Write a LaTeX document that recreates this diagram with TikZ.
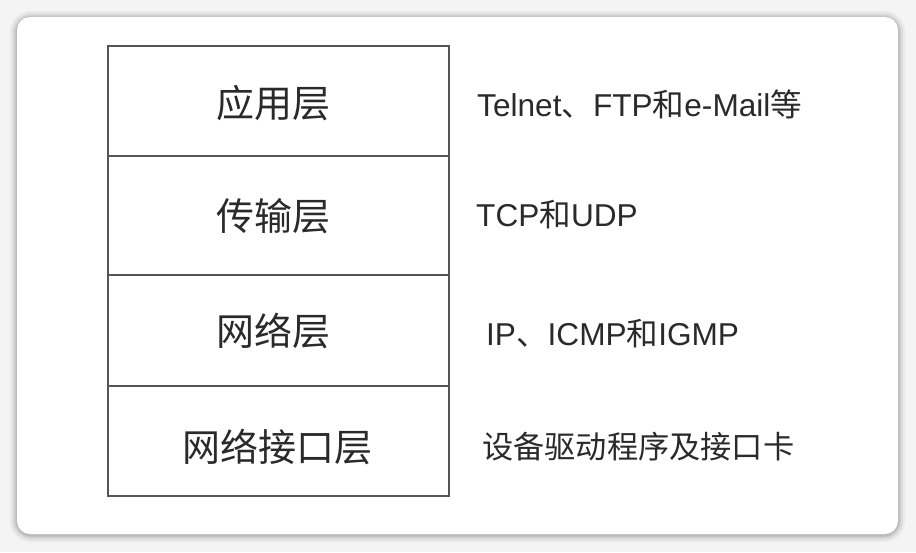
\documentclass[tikz,border=0pt]{standalone}
\usepackage{fontspec}
\setmainfont{Liberation Sans}
\newfontfamily\cjk{Noto Sans CJK SC}
\definecolor{bgc}{HTML}{F4F4F4}
\definecolor{linec}{HTML}{555555}
\definecolor{txtc}{HTML}{2A2A2A}
\begin{document}
\begin{tikzpicture}[x=1pt,y=-1pt,
  layerbox/.style={draw=linec,line width=2pt,minimum width=341pt,inner sep=0pt,anchor=north west},
  layertext/.style={text=txtc,font=\cjk\fontsize{38}{42}\selectfont,inner sep=0pt},
  prototext/.style={text=txtc,font=\fontsize{31.6}{36}\selectfont,anchor=west,inner sep=0pt}]
\useasboundingbox (0,0) rectangle (916,552);
\fill[bgc] (0,0) rectangle (916,552);
% card shadow
\foreach \w/\o in {14/0.04,10/0.05,6/0.07,3/0.09}{
  \draw[black,opacity=\o,line width=\w pt,rounded corners=14pt] (17,18) rectangle (898,535);
}
\fill[white,rounded corners=13pt] (17,17) rectangle (898,534);
% layers
\node[layerbox,minimum height=110pt] (l1) at (107,45) {};
\node[layerbox,minimum height=119pt] (l2) at (107,155) {};
\node[layerbox,minimum height=111pt] (l3) at (107,274) {};
\node[layerbox,minimum height=110pt] (l4) at (107,385) {};
\node[layertext] (t1) at (273,103) {应用层};
\node[layertext] (t2) at (273,216) {传输层};
\node[layertext] (t3) at (273,331) {网络层};
\node[layertext] (t4) at (277,447) {网络接口层};
\node[prototext] (p1) at (477,104) {Telnet{\cjk 、}FTP{\cjk 和}e-Mail{\cjk 等}};
\node[prototext] (p2) at (476,215) {TCP{\cjk 和}UDP};
\node[prototext] (p3) at (486,334) {IP{\cjk 、}ICMP{\cjk 和}IGMP};
\node[prototext,font=\cjk\fontsize{31.2}{36}\selectfont] (p4) at (482,447) {设备驱动程序及接口卡};
\end{tikzpicture}
\end{document}
